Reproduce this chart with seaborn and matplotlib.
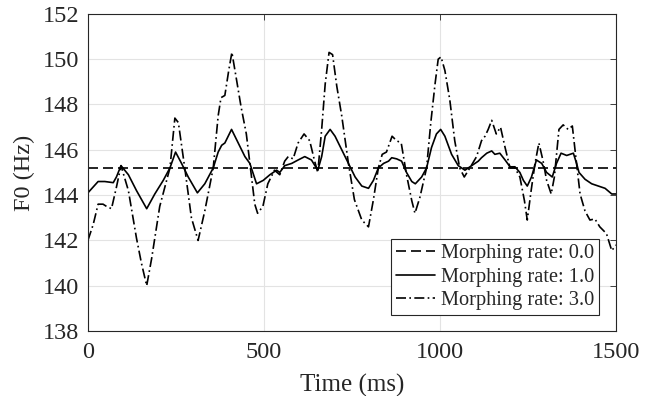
import pandas as pd
import seaborn as sns
import matplotlib.pyplot as plt

# F0 contours for three morphing rates
t_rate0 = [0, 1500]
f0_rate0 = [145.2, 145.2]

t_rate1 = [0, 29, 48, 72, 81, 94, 115, 138, 167, 190, 214, 233, 249, 266, 285, 311, 332, 356, 370,
           380, 389, 408, 427, 446, 460, 479, 498, 517, 536, 545, 559, 579, 597, 616, 635, 653,
           664, 674, 688, 702, 721, 740, 759, 778, 797, 811, 825, 840, 854, 863, 877, 891, 905,
           920, 930, 948, 962, 976, 990, 1002, 1014, 1033, 1052, 1071, 1090, 1109, 1118, 1133,
           1147, 1156, 1170, 1185, 1199, 1213, 1227, 1237, 1248, 1260, 1274, 1289, 1303, 1319,
           1331, 1344, 1360, 1379, 1388, 1395, 1412, 1431, 1450, 1469, 1488, 1500]
f0_rate1 = [144.1, 144.6, 144.6, 144.55, 144.8, 145.3, 144.9, 144.2, 143.4, 144.05, 144.65, 145.2,
            145.9, 145.4, 144.8, 144.1, 144.5, 145.2, 145.9, 146.2, 146.3, 146.9, 146.3, 145.7,
            145.4, 144.5, 144.65, 144.9, 145.1, 145.0, 145.3, 145.4, 145.55, 145.7, 145.55,
            145.1, 145.7, 146.6, 146.9, 146.6, 146.0, 145.4, 144.8, 144.4, 144.3, 144.65, 145.2,
            145.4, 145.5, 145.65, 145.6, 145.5, 145.0, 144.6, 144.5, 144.8, 145.2, 146.1, 146.7,
            146.9, 146.6, 145.8, 145.3, 145.1, 145.3, 145.5, 145.65, 145.85, 145.95, 145.8,
            145.85, 145.55, 145.25, 145.25, 145.0, 144.65, 144.4, 144.8, 145.55, 145.4, 145.0,
            144.8, 145.4, 145.85, 145.75, 145.85, 145.4, 145.0, 144.7, 144.5, 144.4, 144.3,
            144.05, 144.05]

t_rate3 = [0, 15, 29, 43, 53, 67, 81, 94, 115, 138, 152, 167, 181, 204, 233, 247, 257, 276, 294,
           313, 332, 356, 370, 378, 389, 400, 409, 421, 435, 450, 464, 474, 482, 497, 511, 530,
           545, 559, 569, 583, 597, 614, 630, 644, 653, 664, 674, 685, 695, 707, 721, 740, 757,
           778, 797, 811, 825, 836, 848, 864, 877, 890, 905, 920, 929, 943, 962, 974, 986, 995,
           1003, 1014, 1028, 1042, 1056, 1069, 1085, 1104, 1118, 1128, 1137, 1147, 1160, 1172,
           1185, 1199, 1213, 1227, 1240, 1248, 1259, 1270, 1281, 1293, 1303, 1316, 1325, 1338,
           1350, 1364, 1376, 1388, 1398, 1412, 1426, 1440, 1454, 1473, 1488, 1500]
f0_rate3 = [142.0, 142.7, 143.6, 143.6, 143.5, 143.4, 144.35, 145.3, 144.2, 142.1, 141.0, 140.0,
            141.2, 143.5, 145.2, 147.4, 147.2, 145.1, 143.0, 142.0, 143.3, 145.2, 147.5, 148.3,
            148.4, 149.5, 150.3, 149.2, 147.9, 146.7, 144.9, 143.6, 143.2, 143.5, 144.5, 145.1,
            144.9, 145.5, 145.7, 145.6, 146.3, 146.7, 146.4, 145.5, 145.0, 146.9, 148.9, 150.3,
            150.2, 148.8, 147.5, 145.4, 143.8, 142.9, 142.6, 143.8, 145.2, 145.8, 145.9, 146.6,
            146.4, 146.3, 144.9, 143.75, 143.2, 143.9, 145.2, 147.2, 148.9, 150.0, 150.1, 149.5,
            148.2, 146.4, 145.2, 144.8, 145.2, 145.7, 146.4, 146.6, 146.9, 147.3, 146.7, 147.0,
            146.1, 145.2, 145.2, 144.8, 143.75, 142.9, 144.2, 145.4, 146.3, 145.5, 144.65, 144.05,
            144.8, 146.9, 147.1, 146.9, 147.05, 145.4, 144.05, 143.3, 142.9, 142.95, 142.6, 142.3,
            141.55, 141.8]

labels = ['Morphing rate: 0.0', 'Morphing rate: 1.0', 'Morphing rate: 3.0']

df = pd.concat([
    pd.DataFrame({'t': t_rate0, 'f0': f0_rate0, 'rate': labels[0]}),
    pd.DataFrame({'t': t_rate1, 'f0': f0_rate1, 'rate': labels[1]}),
    pd.DataFrame({'t': t_rate3, 'f0': f0_rate3, 'rate': labels[2]}),
])

sns.set_theme(style='whitegrid')
plt.rcParams['font.family'] = ['Liberation Serif', 'DejaVu Serif']

fig = plt.figure(figsize=(6.56, 3.96), dpi=100)
ax = fig.add_axes([0.134, 0.164, 0.805, 0.801])

dash_styles = {labels[0]: (6, 3), labels[1]: '', labels[2]: (6, 2, 1, 2)}
sns.lineplot(data=df, x='t', y='f0', hue='rate', style='rate', dashes=dash_styles,
             palette=['black'] * 3, linewidth=1.2, estimator=None, sort=False, ax=ax)

ax.set_xlim(0, 1500)
ax.set_ylim(138, 152)
ax.set_xticks([0, 500, 1000, 1500])
ax.set_yticks(range(138, 153, 2))
ax.set_xlabel('Time (ms)', fontsize=18, color='#262626', labelpad=8)
ax.set_ylabel('F0 (Hz)', fontsize=17.5, color='#262626', labelpad=6)
ax.tick_params(direction='in', length=4, width=0.6, top=True, right=True,
               labelsize=17.5, labelcolor='#262626', color='#262626', pad=6)
ax.tick_params(axis='x', pad=8)
ax.grid(True, color='#e3e3e3', linewidth=0.8)
for s in ax.spines.values():
    s.set_color('#262626')
    s.set_linewidth(0.8)

leg = ax.legend(loc='lower right', bbox_to_anchor=(0.968, 0.05), fontsize=14.7, frameon=True,
                fancybox=False, edgecolor='#262626', framealpha=1, handlelength=1.9,
                handletextpad=0.3, borderpad=0.25, labelspacing=0.2, borderaxespad=0)
leg.get_frame().set_linewidth(0.8)
leg.set_title(None)

fig.savefig('out.png', dpi=100)
